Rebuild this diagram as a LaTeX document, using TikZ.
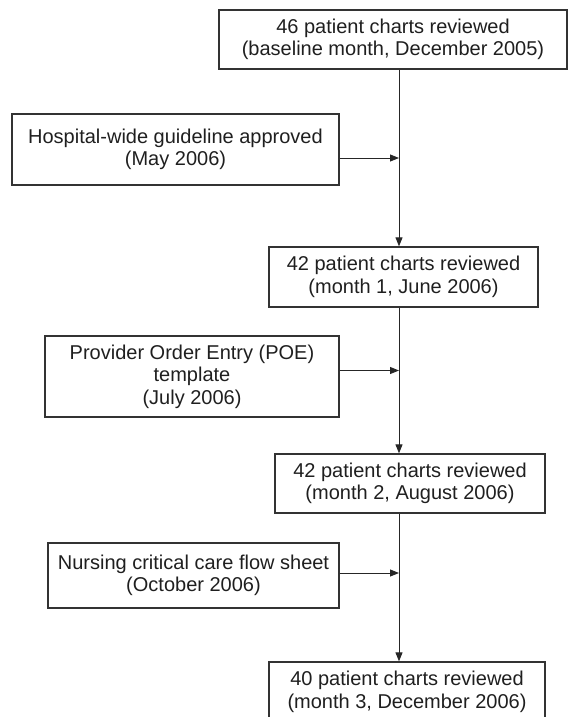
\documentclass[tikz,border=0pt]{standalone}
\usepackage{fontspec}
\setmainfont{Liberation Sans}
\usetikzlibrary{arrows.meta}
\begin{document}
\begin{tikzpicture}[x=1pt,y=-1pt,
  box/.style={draw=black!80, line width=1.3pt, inner sep=0pt, align=center,
    font=\fontsize{20}{22.5}\selectfont, text=black!88},
  conn/.style={draw=black!85, line width=0.9pt, -{Triangle[length=9pt,width=7pt]}}]
\useasboundingbox (0,0) rectangle (571,717);
\node[box, minimum width=348pt, minimum height=59pt] (b1) at (393,39.5)
  {46 patient charts reviewed\\(baseline month, December 2005)};
\node[box, minimum width=327pt, minimum height=71pt] (h) at (175.5,149.5)
  {Hospital-wide guideline approved\\(May 2006)};
\node[box, minimum width=269pt, minimum height=60pt] (b2) at (403.5,277)
  {42 patient charts reviewed\\(month 1, June 2006)};
\node[box, minimum width=294pt, minimum height=81pt] (p) at (192,376.5)
  {Provider Order Entry (POE)\\template\\(July 2006)};
\node[box, minimum width=270pt, minimum height=59pt] (b3) at (410,483.5)
  {42 patient charts reviewed\\(month 2, August 2006)};
\node[box, minimum width=291pt, minimum height=65pt] (n) at (193.5,575.5)
  {Nursing critical care flow sheet\\(October 2006)};
\node[box, minimum width=276pt, minimum height=60pt] (b4) at (407,692)
  {40 patient charts reviewed\\(month 3, December 2006)};
\coordinate (sx) at (399,0);
\coordinate (a1) at (399,158);
\coordinate (a2) at (399,370.5);
\coordinate (a3) at (399,573);
\draw[conn] (b1.south -| sx) -- (b2.north -| sx);
\draw[conn] (b2.south -| sx) -- (b3.north -| sx);
\draw[conn] (b3.south -| sx) -- (b4.north -| sx);
\draw[conn] (h.east |- a1) -- (a1);
\draw[conn] (p.east |- a2) -- (a2);
\draw[conn] (n.east |- a3) -- (a3);
\end{tikzpicture}
\end{document}
